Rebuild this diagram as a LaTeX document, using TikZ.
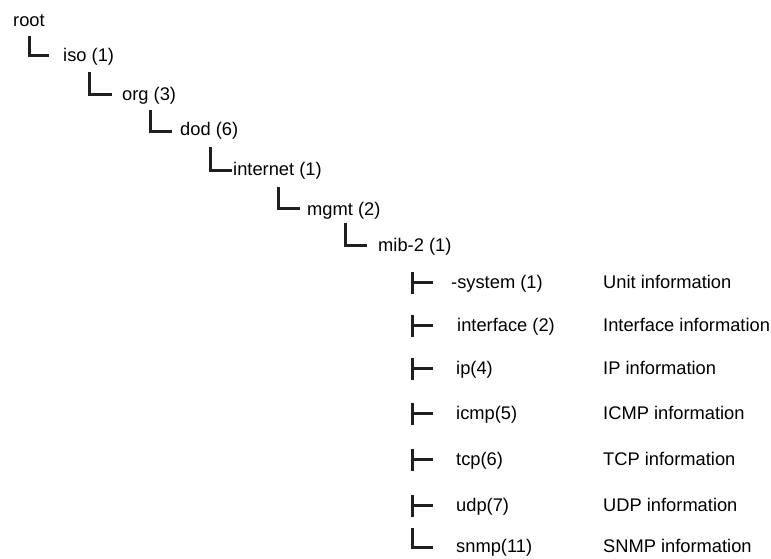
\documentclass[tikz,border=0pt]{standalone}
\usepackage{fontspec}
\setmainfont{Liberation Sans}
\begin{document}
\begin{tikzpicture}[x=1pt,y=-1pt,
  lbl/.style={anchor=base west,inner sep=0pt,font=\fontsize{18.3}{22}\selectfont},
  branch/.style={draw=black!88,line width=3pt,line cap=butt,line join=miter}]
\useasboundingbox (0,0) rectangle (771,558);
% tree levels
\node[lbl] (root) at (13,26) {root};
\node[lbl] (iso) at (63,61) {iso (1)};
\node[lbl] (org) at (122,100) {org (3)};
\node[lbl] (dod) at (180,135) {dod (6)};
\node[lbl] (internet) at (233,175) {internet (1)};
\node[lbl] (mgmt) at (307,215) {mgmt (2)};
\node[lbl] (mib) at (378,251) {mib-2 (1)};
% children
\node[lbl] (system) at (451,288) {-system (1)};
\node[lbl] (interface) at (457,331) {interface (2)};
\node[lbl] (ip) at (456,374) {ip(4)};
\node[lbl] (icmp) at (456,419) {icmp(5)};
\node[lbl] (tcp) at (456,465) {tcp(6)};
\node[lbl] (udp) at (456,511) {udp(7)};
\node[lbl] (snmp) at (456,552) {snmp(11)};
% descriptions
\node[lbl] (dsystem) at (603,288) {Unit information};
\node[lbl] (dinterface) at (603,331) {Interface information};
\node[lbl] (dip) at (603,374) {IP information};
\node[lbl] (dicmp) at (603,419) {ICMP information};
\node[lbl] (dtcp) at (603,465) {TCP information};
\node[lbl] (dudp) at (603,511) {UDP information};
\node[lbl] (dsnmp) at (603,552) {SNMP information};
% L connectors
\coordinate (t1) at (29,36);  \coordinate (e1) at (49,55);
\coordinate (t2) at (89,72);  \coordinate (e2) at (112,94);
\coordinate (t3) at (150,110); \coordinate (e3) at (172,131);
\coordinate (t4) at (210,147); \coordinate (e4) at (232,170);
\coordinate (t5) at (278,187); \coordinate (e5) at (300,208);
\coordinate (t6) at (345,223); \coordinate (e6) at (367,245);
\foreach \i in {1,...,6} {\draw[branch] (t\i) |- (e\i);}
% child ticks
\foreach \n/\y in {a/282,b/325,c/368,d/413,e/459,f/505} {
  \coordinate (ta\n) at (412,\y-10);
  \coordinate (ba\n) at (412,\y+12);
  \coordinate (ma\n) at (412,\y);
  \coordinate (ea\n) at (433,\y);
  \draw[branch] (ta\n) -- (ba\n);
  \draw[branch] (ma\n) -- (ea\n);
}
\coordinate (ts) at (412,528); \coordinate (es) at (433,547);
\draw[branch] (ts) |- (es);
\end{tikzpicture}
\end{document}
